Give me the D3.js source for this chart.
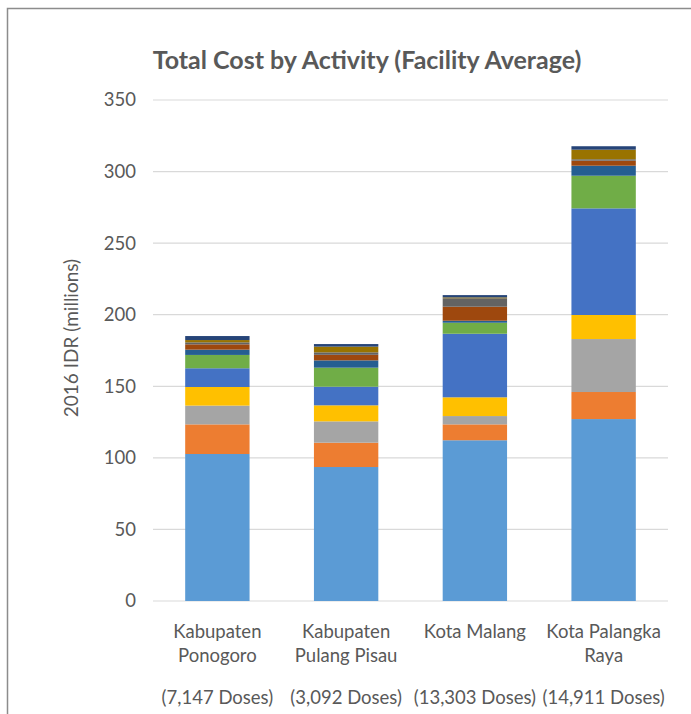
<!DOCTYPE html>
<html>
<head>
<meta charset="utf-8">
<script src="https://cdn.jsdelivr.net/npm/d3@7"></script>
<style>
  body { margin: 0; background: #fff; }
  svg { display: block; font-family: Lato, "Open Sans", sans-serif; }
</style>
</head>
<body>
<svg id="root"></svg>
<script>
var width = 691,
    height = 714;

// categories
var places = ['Kabupaten Ponogoro', 'Kabupaten Pulang Pisau', 'Kota Malang', 'Kota Palangka Raya'];
var placeLines = [['Kabupaten', 'Ponogoro'], ['Kabupaten', 'Pulang Pisau'], ['Kota Malang'], ['Kota Palangka', 'Raya']];
var doses = ['(7,147 Doses)', '(3,092 Doses)', '(13,303 Doses)', '(14,911 Doses)'];

// activity series, bottom to top (millions IDR)
var activities = ['Activity 1', 'Activity 2', 'Activity 3', 'Activity 4', 'Activity 5', 'Activity 6',
                  'Activity 7', 'Activity 8', 'Activity 9', 'Activity 10', 'Activity 11'];
var act1  = [102.7, 93.6, 112.3, 127.1];
var act2  = [20.7, 17.0, 11.1, 18.9];
var act3  = [13.1, 14.9, 5.8, 37.0];
var act4  = [13.0, 11.2, 13.1, 16.8];
var act5  = [13.1, 13.0, 44.4, 74.5];
var act6  = [9.3, 13.3, 7.7, 22.8];
var act7  = [3.7, 5.1, 1.4, 7.0];
var act8  = [3.7, 3.9, 9.8, 3.5];
var act9  = [1.4, 1.7, 5.9, 1.0];
var act10 = [1.6, 4.0, 0.6, 6.7];
var act11 = [2.8, 1.8, 1.6, 2.4];
var yTicks = [0, 50, 100, 150, 200, 250, 300, 350];

var colors = ['#5B9BD5', '#ED7D31', '#A5A5A5', '#FFC000', '#4472C4', '#70AD47',
              '#255E91', '#9E480E', '#636363', '#997300', '#264478'];

var seriesVals = [act1, act2, act3, act4, act5, act6, act7, act8, act9, act10, act11];
var rows = places.map(function(p, i) {
  var r = { place: p };
  activities.forEach(function(a, j) { r[a] = seriesVals[j][i]; });
  return r;
});

var root = d3.select('#root')
    .attr('width', width)
    .attr('height', height);

// chart frame
root.append('rect')
    .attr('x', 7.5).attr('y', 8.5)
    .attr('width', 720).attr('height', 740)
    .attr('fill', '#fff')
    .attr('stroke', '#8c8c8c')
    .attr('stroke-width', 1.5);

var x = d3.scaleBand()
    .domain(places)
    .range([153, 668])
    .paddingInner(0.5)
    .paddingOuter(0.25);

var y = d3.scaleLinear()
    .domain([0, 350])
    .range([601, 100]);

// gridlines
root.append('g').selectAll('line')
  .data(yTicks)
  .enter().append('line')
    .attr('x1', 153).attr('x2', 668)
    .attr('y1', function(d) { return y(d); })
    .attr('y2', function(d) { return y(d); })
    .attr('stroke', '#d9d9d9')
    .attr('stroke-width', 1.2);

// y tick labels
var yAxis = root.append('g')
    .attr('transform', 'translate(136,0)')
    .call(d3.axisLeft(y).tickValues(yTicks).tickSize(0).tickPadding(0));
yAxis.select('.domain').remove();
yAxis.selectAll('text')
    .attr('fill', '#595959')
    .attr('font-size', 18.5)
    .attr('font-family', 'Lato, "Open Sans", sans-serif');

// stacked bars
var stack = d3.stack().keys(activities);
var layers = stack(rows);

root.append('g').selectAll('g')
  .data(layers)
  .enter().append('g')
    .attr('fill', function(d, i) { return colors[i]; })
  .selectAll('rect')
  .data(function(d) { return d; })
  .enter().append('rect')
    .attr('x', function(d) { return x(d.data.place); })
    .attr('width', x.bandwidth())
    .attr('y', function(d) { return y(d[1]); })
    .attr('height', function(d) { return y(d[0]) - y(d[1]); });

// category labels
var cat = root.append('g').selectAll('text')
  .data(places)
  .enter().append('text')
    .attr('text-anchor', 'middle')
    .attr('fill', '#595959')
    .attr('font-size', 18.5)
    .attr('x', function(d) { return x(d) + x.bandwidth() / 2; })
    .attr('y', 638);
cat.selectAll('tspan')
  .data(function(d, i) { return placeLines[i]; })
  .enter().append('tspan')
    .attr('x', function() { var p = d3.select(this.parentNode).datum(); return x(p) + x.bandwidth() / 2; })
    .attr('dy', function(d, i) { return i === 0 ? 0 : 24; })
    .text(function(d) { return d; });

// dose labels
root.append('g').selectAll('text')
  .data(doses)
  .enter().append('text')
    .attr('text-anchor', 'middle')
    .attr('fill', '#595959')
    .attr('font-size', 18.5)
    .attr('x', function(d, i) { return x(places[i]) + x.bandwidth() / 2; })
    .attr('y', 704)
    .text(function(d) { return d; });

// y axis title
root.append('text')
    .attr('transform', 'translate(78,338) rotate(-90)')
    .attr('text-anchor', 'middle')
    .attr('fill', '#595959')
    .attr('font-size', 19)
    .text('2016 IDR (millions)');

// chart title
root.append('text')
    .attr('x', 367)
    .attr('y', 69)
    .attr('text-anchor', 'middle')
    .attr('fill', '#595959')
    .attr('font-size', 25)
    .attr('font-weight', 'bold')
    .text('Total Cost by Activity (Facility Average)');
</script>
</body>
</html>
